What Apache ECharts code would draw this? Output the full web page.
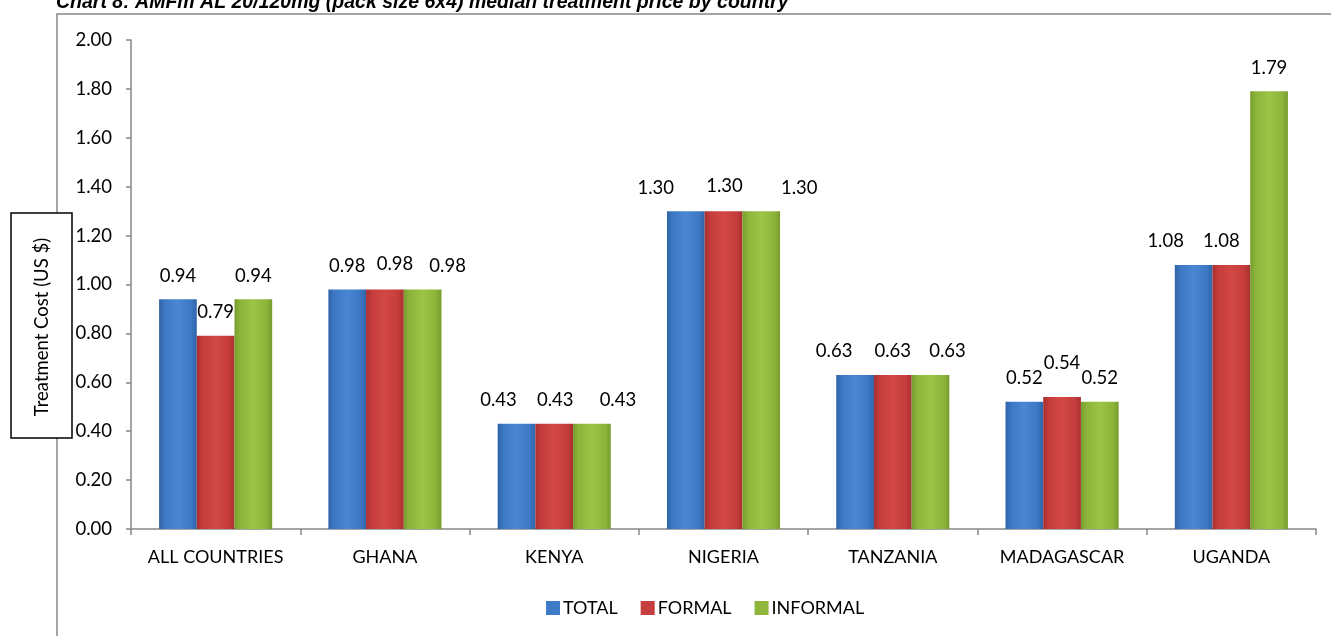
<!DOCTYPE html>
<html>
<head>
<meta charset="utf-8">
<script src="https://cdn.jsdelivr.net/npm/echarts@6/dist/echarts.min.js"></script>
<style>html,body{margin:0;padding:0;background:#fff;}#c{width:1331px;height:636px;}</style>
</head>
<body>
<div id="c"></div>
<script>
const categories = ['ALL COUNTRIES','GHANA','KENYA','NIGERIA','TANZANIA','MADAGASCAR','UGANDA'];
const totalValues = [0.94, 0.98, 0.43, 1.30, 0.63, 0.52, 1.08];
const formalValues = [0.79, 0.98, 0.43, 1.30, 0.63, 0.54, 1.08];
const informalValues = [0.94, 0.98, 0.43, 1.30, 0.63, 0.52, 1.79];
const seriesNames = ['TOTAL','FORMAL','INFORMAL'];
const yTicks = [0, 2.0, 0.2];

// label placement tweaks (style only): horizontal / vertical pixel nudges, as in the original
const labelDx = [
  [0, 0, -18, -30, -21, 0, -28],
  [0, 10, 1, 1, 0, 0, -10],
  [0, 25, 26, 38, 17, 0, 0]
];
const labelDy = [
  [0, 0, 0, 0, 0, 0, 0],
  [0, -2, 0, -2, 0, -10, 0],
  [0, 0, 0, 0, 0, 0, 0]
];

const FONT = 'Lato, "Open Sans", sans-serif';
const FS = 18.5;
function grad(dark, mid, light) {
  return new echarts.graphic.LinearGradient(0, 0, 1, 0, [
    {offset: 0, color: dark}, {offset: 0.15, color: mid}, {offset: 0.5, color: light}, {offset: 0.85, color: mid}, {offset: 1, color: dark}
  ]);
}
const colors = [
  grad('#2f64a8', '#3d78c4', '#4a86d2'),
  grad('#a8302f', '#c43c3b', '#d24846'),
  grad('#769c2e', '#8db43a', '#9cc446')
];
const legendColors = ['#3f7bc6', '#c63e3d', '#8fb63b'];
const data = [totalValues, formalValues, informalValues];

const chart = echarts.init(document.getElementById('c'));
chart.setOption({
  animation: false,
  textStyle: {fontFamily: FONT},
  title: {
    text: 'Chart 8: AMFm AL 20/120mg (pack size 6x4) median treatment price by country',
    left: 51, top: -12,
    textStyle: {fontFamily: 'Arial, "Liberation Sans", sans-serif', fontSize: 19.5, fontWeight: 'bold', fontStyle: 'italic', color: '#000'}
  },
  graphic: [
    {type: 'rect', shape: {x: 57, y: 14, width: 1400, height: 800}, style: {fill: 'none', stroke: '#868686', lineWidth: 1.5}, z: -10, silent: true},
    {type: 'rect', shape: {x: 11, y: 213, width: 61, height: 225}, style: {fill: '#fff', stroke: '#000', lineWidth: 1.5}, z: 10},
    {type: 'text', x: 42, y: 327, rotation: Math.PI/2, style: {text: 'Treatment Cost (US $)', fontFamily: FONT, fontSize: FS, fill: '#000', align: 'center', verticalAlign: 'middle'}, z: 11}
  ],
  legend: {
    data: seriesNames.map((n, i) => ({name: n, itemStyle: {color: legendColors[i]}})),
    bottom: 14, left: 541,
    itemWidth: 14, itemHeight: 14, itemGap: 23,
    icon: 'rect',
    textStyle: {fontSize: 18, color: '#000', fontFamily: FONT, padding: [0,0,0,-2]}
  },
  grid: {left: 131, right: 15, top: 40, bottom: 107},
  xAxis: {
    type: 'category', data: categories,
    axisLine: {lineStyle: {color: '#868686', width: 1.5}},
    axisTick: {show: true, length: 6, lineStyle: {color: '#868686', width: 1.5}},
    axisLabel: {fontSize: 18, color: '#000', margin: 19, fontFamily: FONT, interval: 0}
  },
  yAxis: {
    type: 'value', min: yTicks[0], max: yTicks[1], interval: yTicks[2],
    axisLine: {show: true, lineStyle: {color: '#868686', width: 1.5}},
    axisTick: {show: true, length: 5, lineStyle: {color: '#868686', width: 1.5}},
    splitLine: {show: false},
    axisLabel: {fontSize: FS, color: '#000', margin: 19, fontFamily: FONT, formatter: v => v.toFixed(2)}
  },
  series: seriesNames.map((n, i) => ({
    name: n, type: 'bar',
    data: data[i],
    barWidth: 37.7, barGap: '0%',
    itemStyle: {color: colors[i]},
    labelLayout: function (p) {
      return {dx: labelDx[i][p.dataIndex], dy: labelDy[i][p.dataIndex], hideOverlap: false};
    },
    label: {show: true, position: 'top', distance: 14, fontSize: FS, color: '#000', fontFamily: FONT, formatter: p => p.value.toFixed(2)}
  }))
});
</script>
</body>
</html>
